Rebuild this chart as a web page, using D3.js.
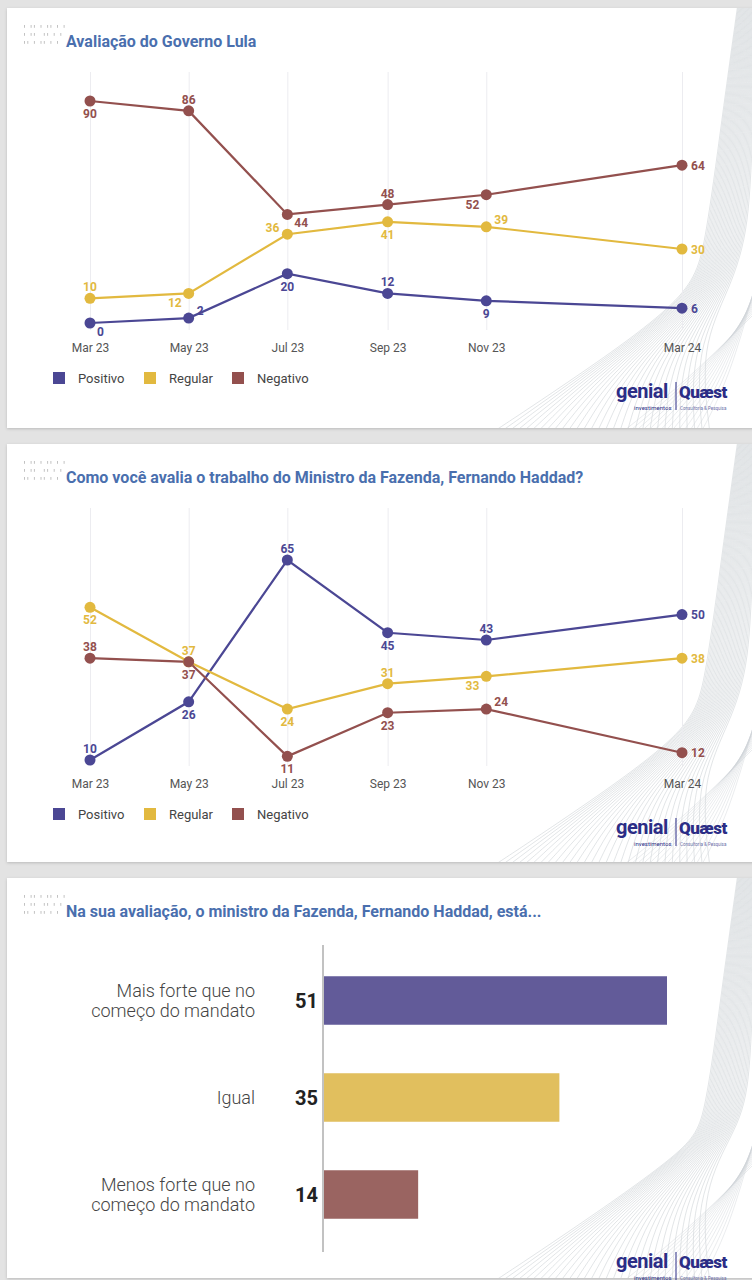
<html>
<head>
  <meta charset="utf-8">
  <script src="https://d3js.org/d3.v7.min.js"></script>
  <style>
  body{
    margin: 0;
    background: #e3e3e3;
  }
  svg{
    display: block;
    font-family: Roboto, "Noto Sans", sans-serif;
  }
  </style>
</head>
<body>
  <script type="text/javascript">
    // ---- data ----
    var months = ["2023-03-01","2023-05-01","2023-07-01","2023-09-01","2023-11-01","2024-03-01"];
    var tickLabels = ["Mar 23","May 23","Jul 23","Sep 23","Nov 23","Mar 24"];
    var seriesNames = ["Positivo","Regular","Negativo"];

    var lulaPositivo = [0, 2, 20, 12, 9, 6];
    var lulaRegular  = [10, 12, 36, 41, 39, 30];
    var lulaNegativo = [90, 86, 44, 48, 52, 64];

    var haddadPositivo = [10, 26, 65, 45, 43, 50];
    var haddadRegular  = [52, 37, 24, 31, 33, 38];
    var haddadNegativo = [38, 37, 11, 23, 24, 12];

    var barCategories = ["Mais forte que no|começo do mandato", "Igual", "Menos forte que no|começo do mandato"];
    var barValues = [51, 35, 14];

    // where each value label sits relative to its dot (layout only)
    var lulaLabelPos = [
      ["br","tr","b","t","b","r"],
      ["t","bl","tl","b","tr","r"],
      ["b","t","br","t","bl","r"]
    ];
    var haddadLabelPos = [
      ["t","b","t","b","t","r"],
      ["b","t","b","t","bl","r"],
      ["t","b","b","b","tr","r"]
    ];

    var color = ["#4b4794","#e2b93f","#93504e"];
    var barColor = ["#625b99","#e1bf5e","#9a6461"];
    var titleColor = "#4a6fae";

    var width = 752, height = 1280;
    var parse = d3.timeParse("%Y-%m-%d");
    var dates = months.map(parse);

    var svg = d3.select("body").append("svg")
        .attr("width", width)
        .attr("height", height);

    // background + cards
    svg.append("rect").attr("width", width).attr("height", height).attr("fill", "#e3e3e3");
    var cards = [[8, 420], [444, 418], [878, 400]];

    var defs = svg.append("defs");
    var sh = defs.append("filter").attr("id", "sh").attr("x", "-5%").attr("y", "-5%").attr("width", "110%").attr("height", "110%");
    sh.append("feDropShadow").attr("dx", 0).attr("dy", 1).attr("stdDeviation", 1.5).attr("flood-color", "#000").attr("flood-opacity", 0.18);

    cards.forEach(function(c, i){
      defs.append("clipPath").attr("id", "clip" + i)
        .append("rect").attr("x", 7).attr("y", c[0]).attr("width", width - 7).attr("height", c[1]);
      svg.append("rect")
        .attr("x", 7).attr("y", c[0])
        .attr("width", width).attr("height", c[1])
        .attr("fill", "#fff")
        .attr("filter", "url(#sh)");
    });

    // decorative waves on the right side of each card
    function waves(i){
      var c = cards[i];
      var g = svg.append("g").attr("clip-path", "url(#clip" + i + ")");
      var top = c[0], bottom = c[0] + c[1];
      var line = d3.line().curve(d3.curveBasis);
      for (var k = 0; k < 30; k++){
        var t = k / 29;
        var pts = [
          [490 + t * 220, bottom + 6],
          [560 + t * 140, bottom - 40 - t * 40],
          [690 + t * 40, bottom - 130 - t * 10],
          [705 + t * 45, top + 240 - t * 20],
          [722 + t * 30, top + 110],
          [738 + t * 25, top - 5]
        ];
        g.append("path")
          .attr("d", line(pts))
          .attr("fill", "none")
          .attr("stroke", "#bfc4ca")
          .attr("stroke-width", 0.6)
          .attr("opacity", 0.75);
      }
      for (var m = 0; m < 14; m++){
        var u = m / 13;
        var pts2 = [
          [620 + u * 80, bottom + 6],
          [690 + u * 40, bottom - 50],
          [760, bottom - 120 - u * 40]
        ];
        g.append("path")
          .attr("d", line(pts2))
          .attr("fill", "none")
          .attr("stroke", "#cdd1d6")
          .attr("stroke-width", 0.6)
          .attr("opacity", 0.7);
      }
    }
    cards.forEach(function(c, i){ waves(i); });

    // decorative ticks before the titles
    var tickRows = ["1 1101 11 101", "1 110 1101 1", "1101 1101 1"];
    function header(y0, text){
      var g = svg.append("g");
      tickRows.forEach(function(row, r){
        row.split("").forEach(function(ch, j){
          if (ch === "1"){
            g.append("rect")
              .attr("x", 24 + j * 3.3).attr("y", y0 + 17 + r * 8)
              .attr("width", 1).attr("height", 2.8)
              .attr("fill", "#c2c2c2");
          }
        });
      });
      g.append("text")
        .attr("x", 66).attr("y", y0 + 39)
        .attr("fill", titleColor)
        .style("font-size", "16px")
        .style("font-weight", 700)
        .text(text);
    }

    function logo(y0){
      var c = y0 + 393;
      var g = svg.append("g");
      g.append("text").attr("x", 616).attr("y", c + 5)
        .attr("fill", "#2b2d86").style("font-size", "20px").style("font-weight", 700)
        .style("letter-spacing", "-0.5px").text("genial");
      g.append("text").attr("x", 634).attr("y", c + 17)
        .attr("fill", "#2b2d86").style("font-size", "6px").text("investimentos");
      g.append("line").attr("x1", 676).attr("x2", 676).attr("y1", c - 11).attr("y2", c + 17)
        .attr("stroke", "#2b2d86").attr("stroke-width", 1);
      g.append("text").attr("x", 679).attr("y", c + 5)
        .attr("fill", "#2b2d86").style("font-size", "17px").style("font-weight", 900)
        .style("letter-spacing", "-0.5px").text("Quæst");
      g.append("text").attr("x", 680).attr("y", c + 17)
        .attr("fill", "#6b6fa8").style("font-size", "4.5px").text("Consultoria & Pesquisa");
    }

    var offsets = {
      t:  [0, -7, "middle"],
      b:  [0, 17, "middle"],
      r:  [9, 4.5, "start"],
      tr: [8, -3, "start"],
      br: [7, 13, "start"],
      tl: [-8, -2, "end"],
      bl: [-7, 14, "end"]
    };

    function linePanel(y0, series, labelPos, yDomain, yRange){
      var x = d3.scaleTime().domain([dates[0], dates[dates.length - 1]]).range([90, 682]);
      var y = d3.scaleLinear().domain(yDomain).range(yRange.map(function(v){ return v + y0; }));
      var g = svg.append("g");

      // vertical gridlines + tick labels via an axis
      var xAxis = d3.axisBottom(x)
        .tickValues(dates)
        .tickSize(-(258))
        .tickPadding(13)
        .tickFormat(function(d, i){ return tickLabels[i]; });
      var ax = g.append("g")
        .attr("transform", "translate(0," + (y0 + 330) + ")")
        .call(xAxis);
      ax.select(".domain").remove();
      ax.selectAll(".tick line").attr("stroke", "#ececf0").attr("stroke-width", 1);
      ax.selectAll(".tick text")
        .attr("fill", "#555")
        .style("font-size", "12px")
        .style("font-family", "Roboto, sans-serif");

      var line = d3.line()
        .x(function(d, i){ return x(dates[i]); })
        .y(function(d){ return y(d); });

      series.forEach(function(s, k){
        g.append("path")
          .datum(s)
          .attr("d", line)
          .attr("fill", "none")
          .attr("stroke", color[k])
          .attr("stroke-width", 2.2);
      });
      series.forEach(function(s, k){
        g.selectAll(".dot" + k)
          .data(s)
          .enter()
          .append("circle")
          .attr("cx", function(d, i){ return x(dates[i]); })
          .attr("cy", function(d){ return y(d); })
          .attr("r", 5.5)
          .attr("fill", color[k]);
        g.selectAll(".lab" + k)
          .data(s)
          .enter()
          .append("text")
          .attr("x", function(d, i){ return x(dates[i]) + offsets[labelPos[k][i]][0]; })
          .attr("y", function(d, i){ return y(d) + offsets[labelPos[k][i]][1]; })
          .attr("text-anchor", function(d, i){ return offsets[labelPos[k][i]][2]; })
          .attr("fill", color[k])
          .style("font-size", "12px")
          .style("font-weight", 700)
          .text(function(d){ return d; });
      });

      // legend
      var lx = [53, 144, 232];
      seriesNames.forEach(function(n, k){
        g.append("rect")
          .attr("x", lx[k]).attr("y", y0 + 372)
          .attr("width", 12).attr("height", 12)
          .attr("fill", color[k]);
        g.append("text")
          .attr("x", lx[k] + 25).attr("y", y0 + 383)
          .attr("fill", "#444")
          .style("font-size", "13px")
          .text(n);
      });
    }

    // panel 1
    header(8, "Avaliação do Governo Lula");
    linePanel(0, [lulaPositivo, lulaRegular, lulaNegativo], lulaLabelPos, [0, 90], [323, 101]);
    logo(0);

    // panel 2
    header(444, "Como você avalia o trabalho do Ministro da Fazenda, Fernando Haddad?");
    linePanel(436, [haddadPositivo, haddadRegular, haddadNegativo], haddadLabelPos, [10, 65], [324, 124]);
    logo(436);

    // panel 3 - bars
    header(878, "Na sua avaliação, o ministro da Fazenda, Fernando Haddad, está...");
    var by = d3.scaleBand().domain(barCategories).range([952, 1243]).paddingInner(0.5).paddingOuter(0.25);
    var bx = d3.scaleLinear().domain([0, d3.max(barValues)]).range([324, 667]);
    var bg = svg.append("g");

    bg.selectAll("rect.bar")
      .data(barValues)
      .enter()
      .append("rect")
      .attr("class", "bar")
      .attr("x", bx(0))
      .attr("y", function(d, i){ return by(barCategories[i]); })
      .attr("width", function(d){ return bx(d) - bx(0); })
      .attr("height", by.bandwidth())
      .attr("fill", function(d, i){ return barColor[i]; });

    bg.append("line")
      .attr("x1", 323).attr("x2", 323)
      .attr("y1", 945).attr("y2", 1252)
      .attr("stroke", "#999").attr("stroke-width", 1.2);

    bg.selectAll("text.val")
      .data(barValues)
      .enter()
      .append("text")
      .attr("class", "val")
      .attr("x", 318)
      .attr("y", function(d, i){ return by(barCategories[i]) + by.bandwidth() / 2 + 7; })
      .attr("text-anchor", "end")
      .attr("fill", "#222")
      .style("font-size", "20px")
      .style("font-weight", 700)
      .text(function(d){ return d; });

    barCategories.forEach(function(c, i){
      var lines = c.split("|");
      var cy = by(c) + by.bandwidth() / 2;
      var t = bg.append("text")
        .attr("text-anchor", "end")
        .attr("fill", "#444")
        .style("font-size", "18px")
        .style("font-weight", 300);
      lines.forEach(function(l, j){
        t.append("tspan")
          .attr("x", 255)
          .attr("y", cy + 6 + (j - (lines.length - 1) / 2) * 20)
          .text(l);
      });
    });
    logo(870);
  </script>
</body>
</html>
